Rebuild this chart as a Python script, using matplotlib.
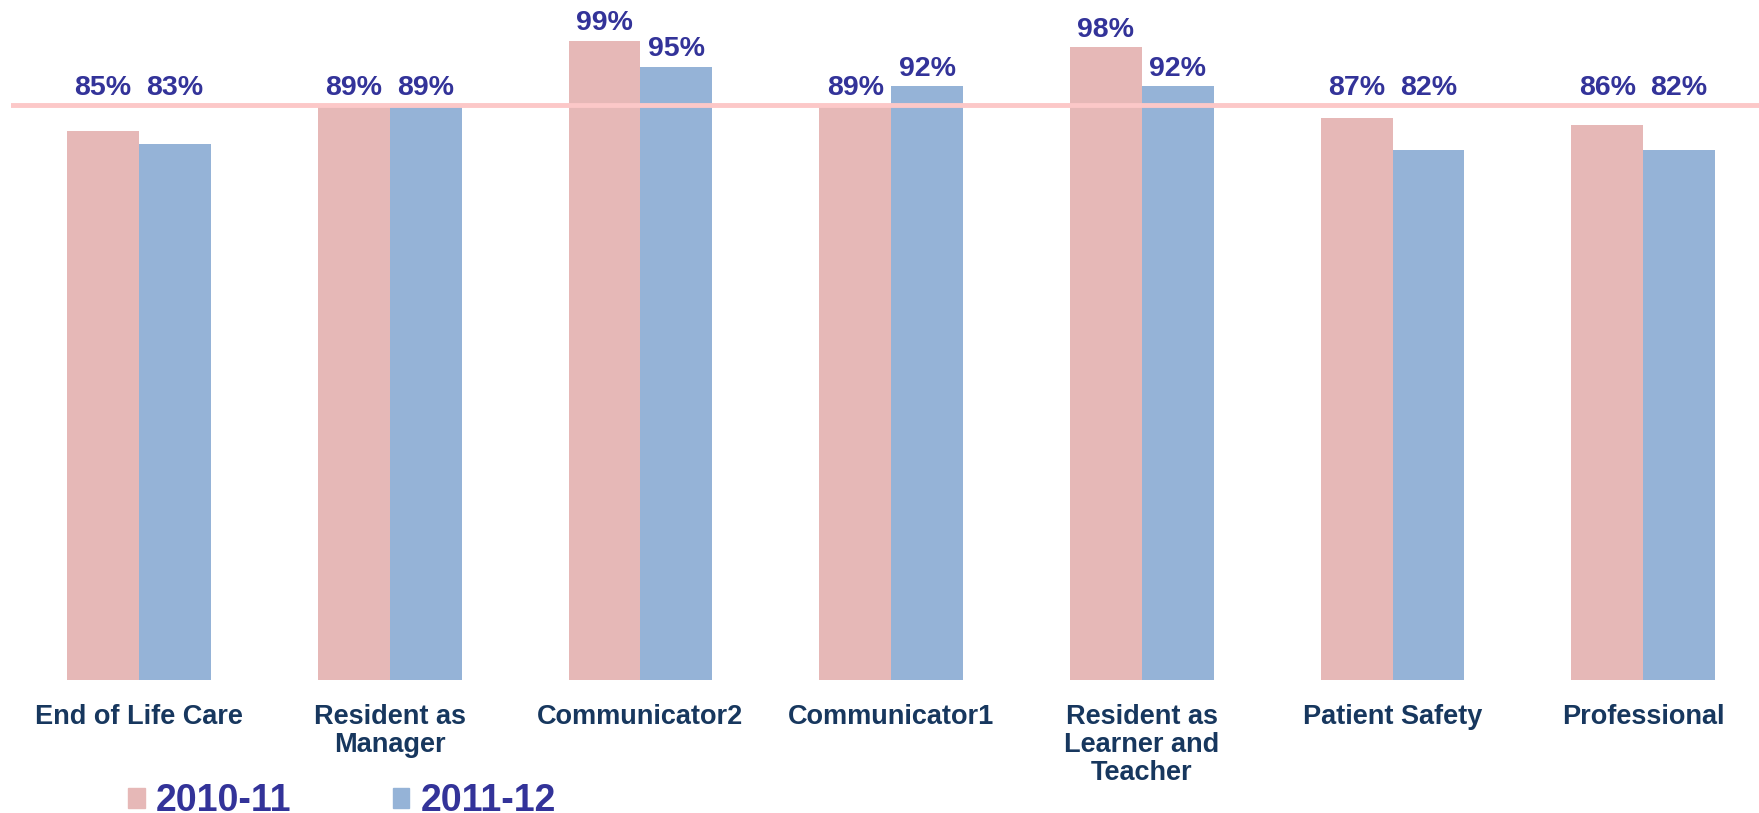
#!/usr/bin/env python
# -*- coding: utf-8 -*-
import matplotlib
matplotlib.use('Agg')
import matplotlib.pyplot as plt
from matplotlib.patches import Patch
import numpy as np

categories = ['End of Life Care', 'Resident as\nManager', 'Communicator2',
              'Communicator1', 'Resident as\nLearner and\nTeacher',
              'Patient Safety', 'Professional']
series_names = ['2010-11', '2011-12']
values_2010 = [85, 89, 99, 89, 98, 87, 86]
values_2011 = [83, 89, 95, 92, 92, 82, 82]
target = 89

pink = '#E6B8B7'
blue = '#95B3D7'
label_color = '#333399'
cat_color = '#17375E'

plt.rcParams['font.family'] = ['Liberation Sans', 'DejaVu Sans']

W, H = 1759, 813
fig = plt.figure(figsize=(W / 100, H / 100), dpi=100)
ax = fig.add_axes([11 / W, 1 - 680 / H, 1 - 11 / W, 680 / H])

x = np.arange(len(categories))
width = 0.287
bars1 = ax.bar(x - width / 2, values_2010, width, color=pink, zorder=2)
bars2 = ax.bar(x + width / 2, values_2011, width, color=blue, zorder=2)

ax.axhline(target, color='#FCC8C8', lw=3.5, zorder=3)

for bars, vals in ((bars1, values_2010), (bars2, values_2011)):
    for b, v in zip(bars, vals):
        ax.text(b.get_x() + b.get_width() / 2, max(v, target) + 1.6, '%d%%' % v,
                ha='center', va='baseline', fontsize=20.5, fontweight='bold',
                color=label_color, zorder=4)

ax.set_xlim(-0.511, 6.462)
ax.set_ylim(0, 105.3)
ax.set_xticks(x)
ax.set_xticklabels(categories, fontsize=19.5, fontweight='bold', color=cat_color,
                   linespacing=1.12)
ax.tick_params(axis='x', length=0, pad=17)
ax.set_yticks([])
for s in ax.spines.values():
    s.set_visible(False)

handles = [Patch(color=pink), Patch(color=blue)]
fig.legend(handles, series_names, loc='center left',
           bbox_to_anchor=(128 / W, 12 / H), ncol=2, frameon=False,
           prop={'size': 27, 'weight': 'bold'}, labelcolor=label_color,
           handlelength=0.44, handleheight=0.45, handletextpad=0.3,
           columnspacing=2.7, borderpad=0, borderaxespad=0)

fig.savefig('out.png', dpi=100)
